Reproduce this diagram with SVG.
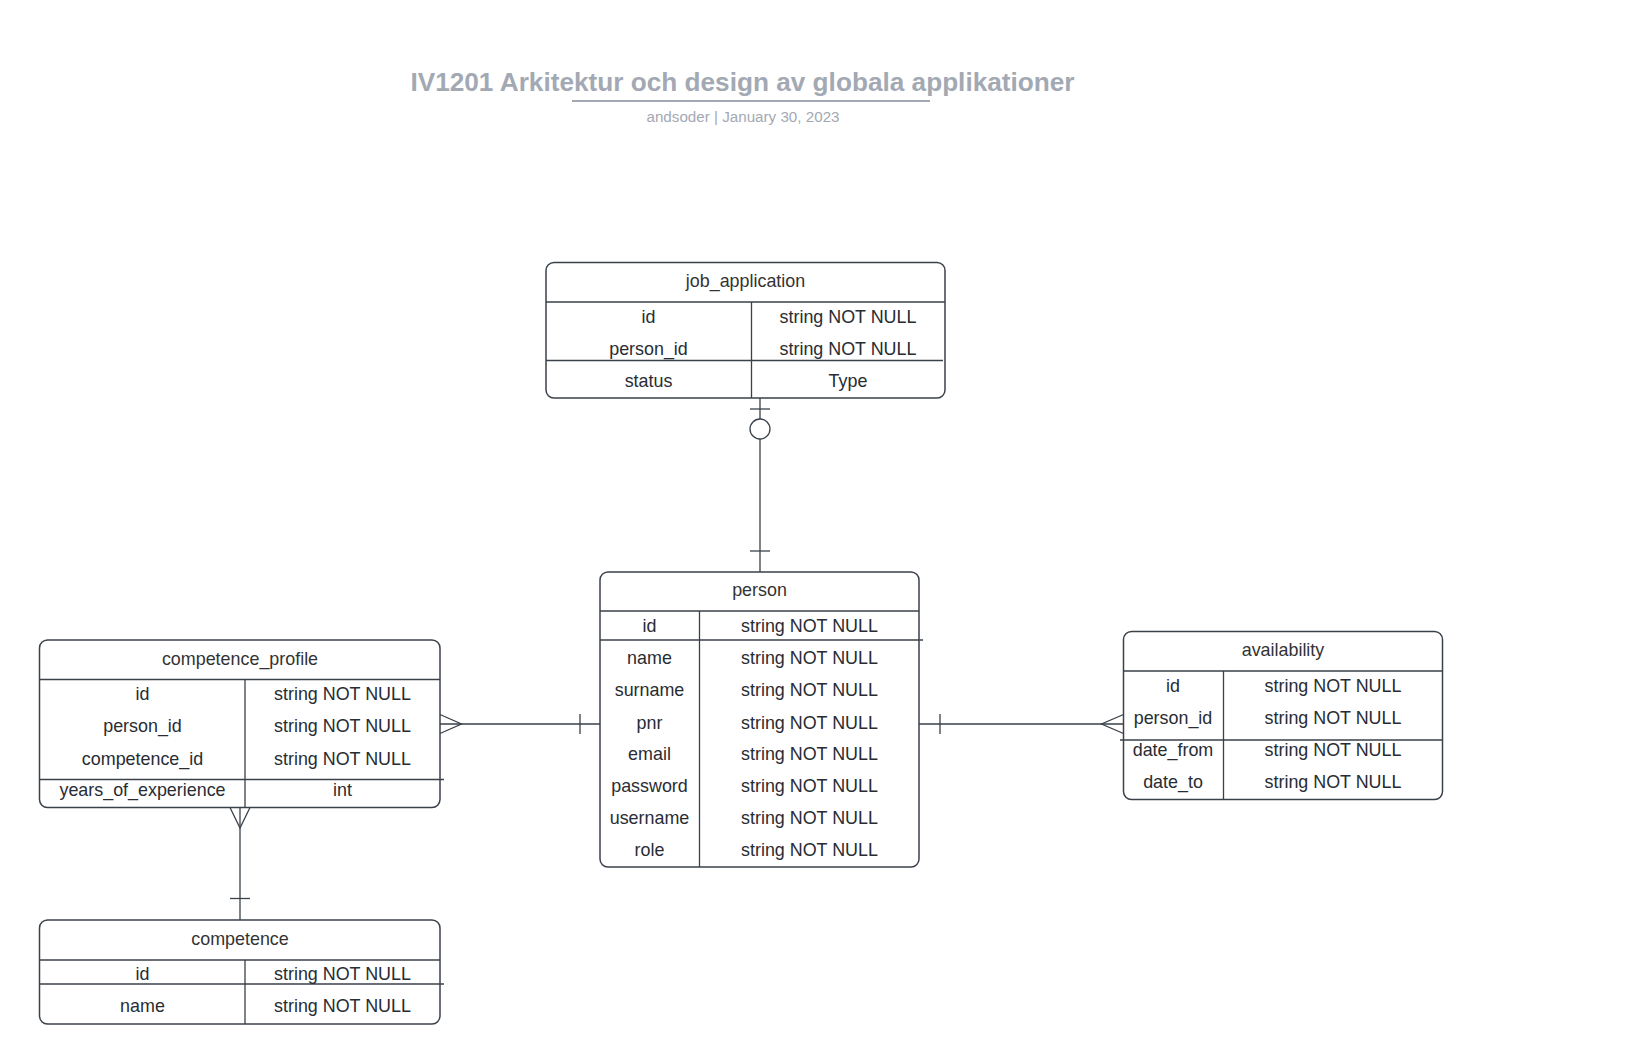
<svg xmlns="http://www.w3.org/2000/svg" width="1634" height="1064" viewBox="0 0 1634 1064">
<style>
.box{fill:#ffffff;stroke:#3a414a;stroke-width:1.5}
.ln{stroke:#3a414a;stroke-width:1.3;fill:none}
.t{font-family:"Liberation Sans",Arial,sans-serif;font-size:17.9px;fill:#282c33;text-anchor:middle}
.h{font-family:"Liberation Sans",Arial,sans-serif;font-size:17.9px;fill:#333333;text-anchor:middle}
.title{font-family:"Liberation Sans",Arial,sans-serif;font-size:26.2px;font-weight:bold;fill:#a3a9b3;text-anchor:middle}
.sub{font-family:"Liberation Sans",Arial,sans-serif;font-size:15.2px;fill:#a3a9b3;text-anchor:middle}
</style>
<rect width="1634" height="1064" fill="#ffffff"/>
<g id="header">
<text class="title" x="742.5" y="91">IV1201 Arkitektur och design av globala applikationer</text>
<line x1="572" y1="101" x2="930" y2="101" stroke="#a3a9b3" stroke-width="2"/>
<text class="sub" x="743" y="121.5">andsoder | January 30, 2023</text>
</g>
<g id="connectors">
<line class="ln" x1="760" y1="398" x2="760" y2="419"/>
<line class="ln" x1="760" y1="439" x2="760" y2="572"/>
<line class="ln" x1="750" y1="409" x2="770" y2="409"/>
<circle class="ln" cx="760" cy="429" r="10" fill="#ffffff"/>
<line class="ln" x1="750" y1="551" x2="770" y2="551"/>
<line class="ln" x1="440" y1="724" x2="600" y2="724"/>
<polyline class="ln" points="440,714.5 461.5,724 440,733.5"/>
<line class="ln" x1="580" y1="714" x2="580" y2="734"/>
<line class="ln" x1="919" y1="724" x2="1123.5" y2="724"/>
<line class="ln" x1="940" y1="714" x2="940" y2="734"/>
<polyline class="ln" points="1123.5,714.5 1101.5,724 1123.5,733.5"/>
<line class="ln" x1="240" y1="807.5" x2="240" y2="920"/>
<polyline class="ln" points="230,807.5 240,828 250,807.5"/>
<line class="ln" x1="230" y1="898.5" x2="250" y2="898.5"/>
</g>
<g id="job_application">
<rect class="box" x="546" y="262.5" width="399" height="135.5" rx="8"/>
<line class="ln" x1="546" y1="302" x2="945" y2="302"/>
<line class="ln" x1="751.5" y1="302" x2="751.5" y2="398"/>
<line class="ln" x1="546" y1="360.5" x2="943" y2="360.5"/>
<text class="h" x="745.5" y="287">job_application</text>
<text class="t" x="648.5" y="323">id</text>
<text class="t" x="848" y="323">string NOT NULL</text>
<text class="t" x="648.5" y="355">person_id</text>
<text class="t" x="848" y="355">string NOT NULL</text>
<text class="t" x="648.5" y="386.5">status</text>
<text class="t" x="848" y="386.5">Type</text>
</g>
<g id="person">
<rect class="box" x="600" y="572" width="319" height="295" rx="8"/>
<line class="ln" x1="600" y1="611" x2="919" y2="611"/>
<line class="ln" x1="600" y1="640" x2="923" y2="640"/>
<line class="ln" x1="699.5" y1="611" x2="699.5" y2="867"/>
<text class="h" x="759.5" y="596">person</text>
<text class="t" x="649.5" y="632">id</text>
<text class="t" x="809.5" y="632">string NOT NULL</text>
<text class="t" x="649.5" y="664">name</text>
<text class="t" x="809.5" y="664">string NOT NULL</text>
<text class="t" x="649.5" y="696">surname</text>
<text class="t" x="809.5" y="696">string NOT NULL</text>
<text class="t" x="649.5" y="728.5">pnr</text>
<text class="t" x="809.5" y="728.5">string NOT NULL</text>
<text class="t" x="649.5" y="760">email</text>
<text class="t" x="809.5" y="760">string NOT NULL</text>
<text class="t" x="649.5" y="792">password</text>
<text class="t" x="809.5" y="792">string NOT NULL</text>
<text class="t" x="649.5" y="824">username</text>
<text class="t" x="809.5" y="824">string NOT NULL</text>
<text class="t" x="649.5" y="856">role</text>
<text class="t" x="809.5" y="856">string NOT NULL</text>
</g>
<g id="competence_profile">
<rect class="box" x="39.5" y="640" width="400.5" height="167.5" rx="8"/>
<line class="ln" x1="39.5" y1="679.5" x2="440" y2="679.5"/>
<line class="ln" x1="245" y1="679.5" x2="245" y2="807.5"/>
<line class="ln" x1="39.5" y1="779.5" x2="444" y2="779.5"/>
<text class="h" x="240" y="664.5">competence_profile</text>
<text class="t" x="142.5" y="700">id</text>
<text class="t" x="342.5" y="700">string NOT NULL</text>
<text class="t" x="142.5" y="732">person_id</text>
<text class="t" x="342.5" y="732">string NOT NULL</text>
<text class="t" x="142.5" y="764.5">competence_id</text>
<text class="t" x="342.5" y="764.5">string NOT NULL</text>
<text class="t" x="142.5" y="796">years_of_experience</text>
<text class="t" x="342.5" y="796">int</text>
</g>
<g id="competence">
<rect class="box" x="39.5" y="920" width="400.5" height="104" rx="8"/>
<line class="ln" x1="39.5" y1="960" x2="440" y2="960"/>
<line class="ln" x1="39.5" y1="984" x2="444" y2="984"/>
<line class="ln" x1="245" y1="960" x2="245" y2="1024"/>
<text class="h" x="240" y="944.5">competence</text>
<text class="t" x="142.5" y="980">id</text>
<text class="t" x="342.5" y="980">string NOT NULL</text>
<text class="t" x="142.5" y="1012">name</text>
<text class="t" x="342.5" y="1012">string NOT NULL</text>
</g>
<g id="availability">
<rect class="box" x="1123.5" y="631.5" width="319" height="168" rx="8"/>
<line class="ln" x1="1123.5" y1="671" x2="1442.5" y2="671"/>
<line class="ln" x1="1120" y1="740" x2="1442.5" y2="740"/>
<line class="ln" x1="1223.5" y1="671" x2="1223.5" y2="799.5"/>
<text class="h" x="1283" y="656">availability</text>
<text class="t" x="1173" y="692">id</text>
<text class="t" x="1333" y="692">string NOT NULL</text>
<text class="t" x="1173" y="724">person_id</text>
<text class="t" x="1333" y="724">string NOT NULL</text>
<text class="t" x="1173" y="756">date_from</text>
<text class="t" x="1333" y="756">string NOT NULL</text>
<text class="t" x="1173" y="787.5">date_to</text>
<text class="t" x="1333" y="787.5">string NOT NULL</text>
</g>
</svg>
